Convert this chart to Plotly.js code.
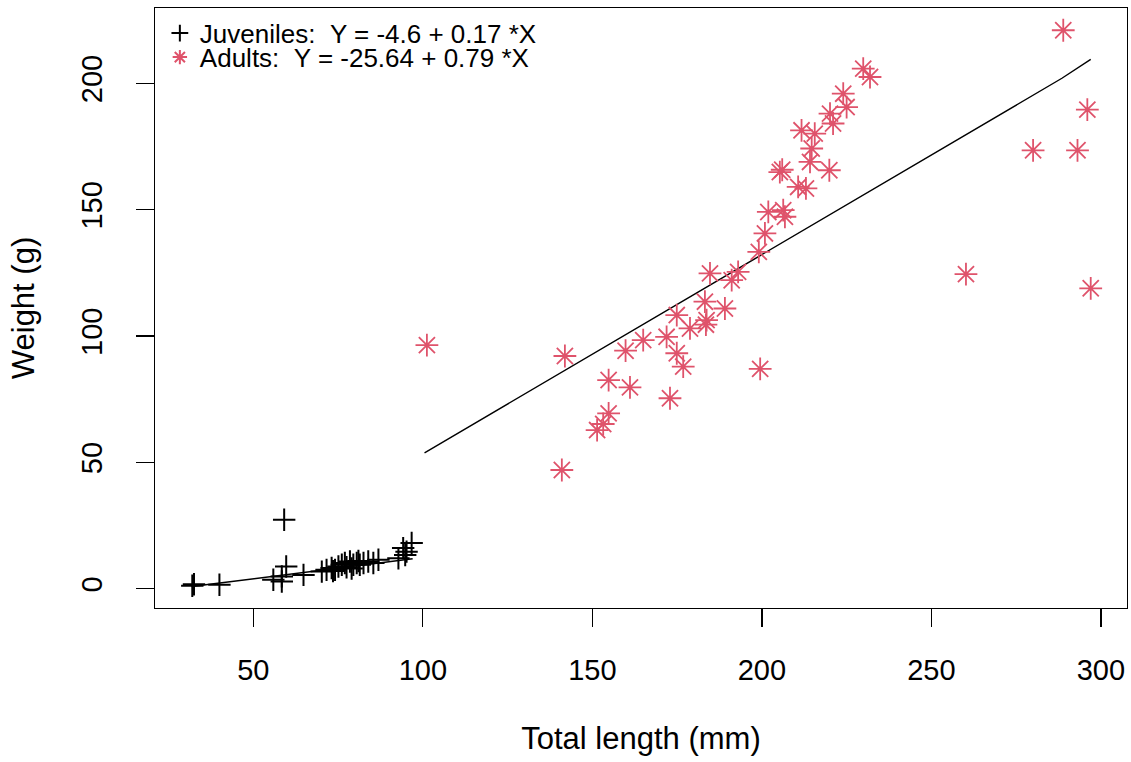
<!DOCTYPE html>
<html>
<head>
<meta charset="utf-8">
<script src="https://cdn.plot.ly/plotly-3.0.1.min.js"></script>
<style>html,body{margin:0;padding:0;background:#fff;}#chart{width:1131px;height:762px;}</style>
</head>
<body>
<div id="chart"></div>
<script>
// Juveniles: total length (mm) and weight (g)
const juvLength = [32.0, 32.5, 40.0, 55.9, 58.4, 58.4, 59.7, 59.1, 64.8, 70.2, 71.6, 73.1, 73.5, 74.1, 75.1, 76.1, 77.0, 77.5, 78.5, 79.0, 79.5, 80.5, 81.0, 81.4, 82.5, 83.9, 85.4, 86.9, 92.8, 94.2, 94.8, 95.2, 96.7];
const juvWeight = [1.2, 1.8, 1.6, 3.6, 2.9, 4.9, 8.8, 27.3, 5.5, 6.8, 7.5, 8.2, 7.0, 7.5, 8.8, 9.5, 10.2, 8.5, 10.8, 8.0, 9.5, 10.2, 11.0, 9.5, 10.2, 10.8, 10.2, 11.5, 12.1, 16.1, 13.4, 14.7, 18.1];

// Adults: total length (mm) and weight (g)
const adultLength = [101.2, 141.0, 141.9, 151.4, 153.2, 154.8, 154.8, 159.8, 161.1, 165.0, 171.9, 172.9, 174.9, 174.9, 176.8, 178.8, 183.7, 183.5, 183.2, 184.7, 189.1, 191.1, 193.0, 199.5, 199.1, 200.9, 201.9, 206.3, 206.8, 205.3, 206.0, 210.7, 213.0, 211.7, 215.6, 214.7, 214.2, 219.9, 220.1, 221.0, 224.0, 225.0, 229.9, 231.9, 260.2, 280.0, 288.9, 293.1, 296.0, 297.0];
const adultWeight = [96.4, 47.0, 92.1, 62.8, 65.2, 69.4, 82.6, 94.2, 79.7, 98.4, 99.7, 75.4, 108.3, 93.2, 87.9, 103.0, 106.3, 104.5, 113.6, 124.8, 110.9, 122.1, 125.4, 87.0, 133.3, 140.6, 149.1, 149.8, 147.2, 164.9, 165.8, 159.0, 158.4, 181.4, 180.1, 174.2, 168.9, 165.6, 188.0, 184.1, 195.9, 190.6, 205.8, 202.5, 124.5, 173.5, 221.0, 173.5, 189.6, 118.9];

// Fitted lines
const juvLineX = [31.8, 97.0];
const juvLineY = [0.9, 11.9];
const adultLineX = [100.5, 288.5, 297.0];
const adultLineY = [53.8, 202.0, 209.5];

// Legend labels and tick labels
const juvLabel = "Juveniles:\u00A0\u00A0Y = -4.6 + 0.17 *X";
const adultLabel = "Adults:\u00A0\u00A0Y = -25.64 + 0.79 *X";
const xTicks = [50, 100, 150, 200, 250, 300];
const yTicks = [0, 50, 100, 150, 200];

const FONT = '"Liberation Sans", Arial, "DejaVu Sans", sans-serif';
const RED = '#DF536B';

const traces = [
  {x: juvLineX, y: juvLineY, type: 'scatter', mode: 'lines',
   line: {color: '#000', width: 1.4}, showlegend: false, hoverinfo: 'skip'},
  {x: adultLineX, y: adultLineY, type: 'scatter', mode: 'lines',
   line: {color: '#000', width: 1.4}, showlegend: false, hoverinfo: 'skip'},
  {x: juvLength, y: juvWeight, type: 'scatter', mode: 'markers', name: juvLabel,
   marker: {symbol: 'cross-thin-open', size: 16, color: '#000', line: {width: 2, color: '#000'}},
   legend: 'legend'},
  {x: adultLength, y: adultWeight, type: 'scatter', mode: 'markers', name: adultLabel,
   marker: {symbol: 'asterisk-open', size: 19, color: RED, line: {width: 1.8, color: RED}},
   legend: 'legend2'}
];

const axisCommon = {
  showgrid: false, zeroline: false, showline: true, mirror: true,
  linecolor: '#000', linewidth: 1.3,
  ticks: 'outside', ticklen: 18, tickwidth: 1.3, tickcolor: '#000',
  tickfont: {family: FONT, size: 29, color: '#000'}
};

const legendCommon = {
  x: 0.005, xanchor: 'left', yanchor: 'middle',
  bgcolor: 'rgba(0,0,0,0)', borderwidth: 0,
  font: {family: FONT, size: 26, color: '#000'},
  itemsizing: 'constant'
};

const layout = {
  width: 1131, height: 762,
  margin: {l: 155, r: 4, t: 8, b: 154},
  paper_bgcolor: '#fff', plot_bgcolor: '#fff',
  font: {family: FONT, color: '#000'},
  xaxis: Object.assign({}, axisCommon, {
    range: [21.0, 307.7], tickvals: xTicks, ticktext: xTicks.map(String),
    ticklabelstandoff: 18,
    title: {text: 'Total length (mm)', font: {family: FONT, size: 31, color: '#000'}, standoff: 42}
  }),
  yaxis: Object.assign({}, axisCommon, {
    range: [-7.6, 229.8], tickvals: yTicks, ticktext: yTicks.map(String),
    tickangle: -90, ticklabelstandoff: 22,
    title: {text: 'Weight (g)', font: {family: FONT, size: 31, color: '#000'}, standoff: 32}
  }),
  legend: Object.assign({}, legendCommon, {y: 0.958}),
  legend2: Object.assign({}, legendCommon, {y: 0.918}),
  showlegend: true
};

Plotly.newPlot('chart', traces, layout, {displayModeBar: false, staticPlot: true});
</script>
</body>
</html>
